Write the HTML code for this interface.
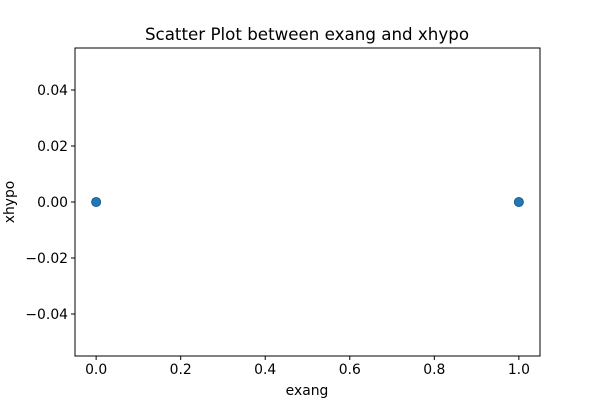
<!DOCTYPE html>
<html><head><meta charset="utf-8"><style>
body{margin:0;background:#fff;}
svg{font-family:"DejaVu Sans","Liberation Sans",sans-serif;}
</style></head><body>
<svg id="chart" width="600" height="400" viewBox="0 0 600 400">
<rect width="600" height="400" fill="#fff"/>
<text x="307" y="40" font-size="16.7" text-anchor="middle" fill="#000">Scatter Plot between exang and xhypo</text>
<g id="xticks"></g>
<g id="yticks"></g>
<g id="points"></g>
<rect x="75" y="48" width="465" height="308" fill="none" stroke="#000" stroke-width="1"/>
<text x="307" y="395" font-size="13.9" text-anchor="middle">exang</text>
<text x="14" y="202" font-size="13.9" text-anchor="middle" transform="rotate(-90 14 202)">xhypo</text>
</svg>
<script>
const xVals=[0,1,0,1];
const yVals=[0,0,0,0];
const xTicks=[0,0.2,0.4,0.6,0.8,1.0];
const xTickLabels=["0.0","0.2","0.4","0.6","0.8","1.0"];
const yTicks=[-0.04,-0.02,0,0.02,0.04];
const yTickLabels=["−0.04","−0.02","0.00","0.02","0.04"];
const L=75,R=540,T=48,B=356,xmin=-0.05,xmax=1.05,ymin=-0.055,ymax=0.055;
const sx=v=>L+(v-xmin)/(xmax-xmin)*(R-L);
const sy=v=>B-(v-ymin)/(ymax-ymin)*(B-T);
const NS="http://www.w3.org/2000/svg";
function mk(t,a){const e=document.createElementNS(NS,t);for(const k in a)e.setAttribute(k,a[k]);return e;}
const gx=document.getElementById('xticks'),gy=document.getElementById('yticks'),gp=document.getElementById('points');
xTicks.forEach((v,i)=>{const x=sx(v);
const l=mk('line',{x1:x,x2:x,y1:B,y2:B+4,stroke:'#000'});


gx.appendChild(l);
const t=mk('text',{x:x,y:B+18,'font-size':13.9,'text-anchor':'middle'});t.textContent=xTickLabels[i];


gx.appendChild(t);});
yTicks.forEach((v,i)=>{const y=sy(v);
const l=mk('line',{x1:L-4,x2:L,y1:y,y2:y,stroke:'#000'});


gy.appendChild(l);
const t=mk('text',{x:L-7,y:y+5,'font-size':13.9,'text-anchor':'end'});t.textContent=yTickLabels[i];


gy.appendChild(t);});
xVals.forEach((v,i)=>{const c=mk('circle',{cx:sx(v),cy:sy(yVals[i]),r:4.5,fill:'#1f77b4',stroke:'#1a5a8a','stroke-width':0.8,'fill-opacity':0.9});


gp.appendChild(c);});
</script>
</body></html>
